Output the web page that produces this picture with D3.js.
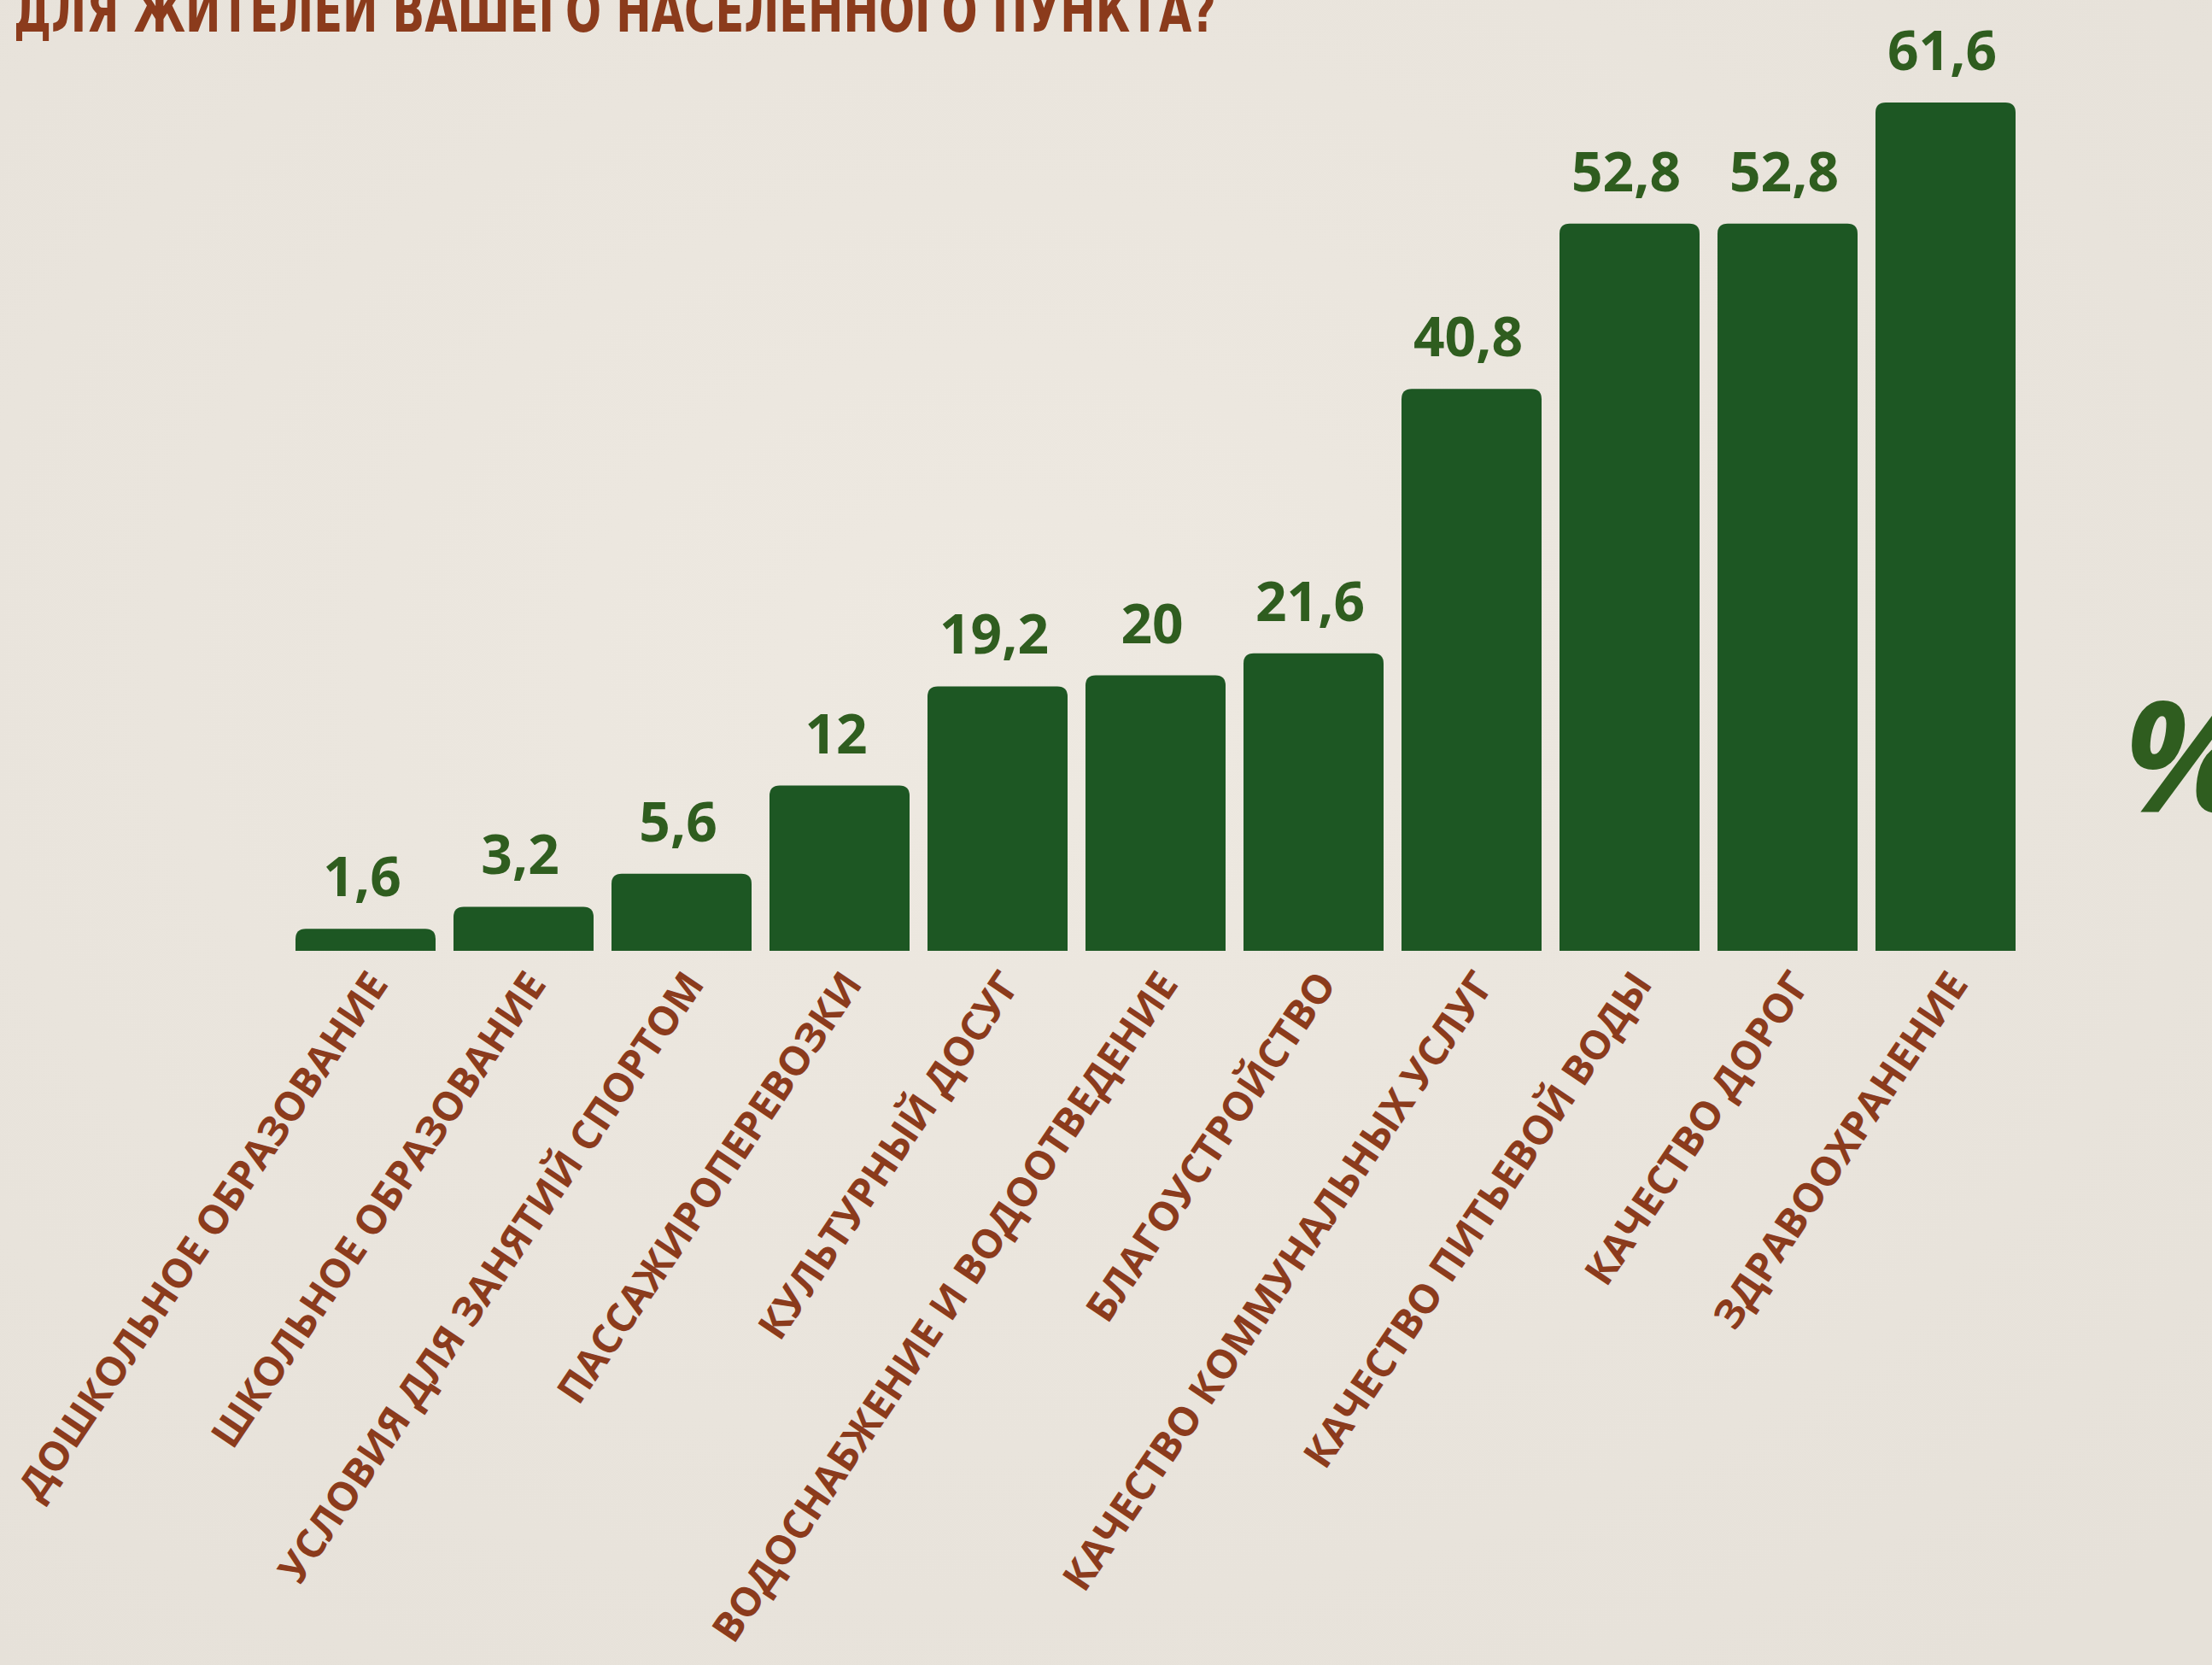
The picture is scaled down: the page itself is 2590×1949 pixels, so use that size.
<!DOCTYPE html>
<html>
<head>
<meta charset="utf-8">
<script src="https://cdn.jsdelivr.net/npm/d3@7"></script>
<style>
  html, body { margin: 0; padding: 0; background: #ebe6df; }
  svg { display: block; }
</style>
</head>
<body>
<div id="chart"></div>
<script>
// chart data
var titleText = "ДЛЯ ЖИТЕЛЕЙ ВАШЕГО НАСЕЛЕННОГО ПУНКТА?";
var categories = [
  "ДОШКОЛЬНОЕ ОБРАЗОВАНИЕ",
  "ШКОЛЬНОЕ ОБРАЗОВАНИЕ",
  "УСЛОВИЯ ДЛЯ ЗАНЯТИЙ СПОРТОМ",
  "ПАССАЖИРОПЕРЕВОЗКИ",
  "КУЛЬТУРНЫЙ ДОСУГ",
  "ВОДОСНАБЖЕНИЕ И ВОДООТВЕДЕНИЕ",
  "БЛАГОУСТРОЙСТВО",
  "КАЧЕСТВО КОММУНАЛЬНЫХ УСЛУГ",
  "КАЧЕСТВО ПИТЬЕВОЙ ВОДЫ",
  "КАЧЕСТВО ДОРОГ",
  "ЗДРАВООХРАНЕНИЕ"
];
var values = [1.6, 3.2, 5.6, 12, 19.2, 20, 21.6, 40.8, 52.8, 52.8, 61.6];
var unitLabel = "%";

var svgWidth = 2590;
var svgHeight = 1949;

var barGreen = "#1d5723";
var textGreen = "#2f5d1f";
var brown = "#8b3b1c";

var svg = d3.select("#chart")
  .append("svg")
  .attr("width", svgWidth)
  .attr("height", svgHeight);

// paper background
var defs = svg.append("defs");
var grad = defs.append("radialGradient")
  .attr("id", "paper")
  .attr("cx", "45%").attr("cy", "40%").attr("r", "75%");
grad.append("stop").attr("offset", "0%").attr("stop-color", "#eee9e1");
grad.append("stop").attr("offset", "100%").attr("stop-color", "#e6e1d9");

svg.append("rect")
  .attr("width", svgWidth)
  .attr("height", svgHeight)
  .attr("fill", "url(#paper)");

// scales
var x = d3.scaleBand()
  .domain(categories)
  .range([346, 2360])
  .paddingInner(0.1135)
  .paddingOuter(0);

var baseline = 1113;
var y = d3.scaleLinear()
  .domain([0, 61.6])
  .range([baseline, 120]);

// bar with rounded top corners only
function barPath(x0, y0, w, h, r) {
  r = Math.min(r, h, w / 2);
  return "M" + x0 + "," + (y0 + h) +
    "V" + (y0 + r) +
    "Q" + x0 + "," + y0 + " " + (x0 + r) + "," + y0 +
    "H" + (x0 + w - r) +
    "Q" + (x0 + w) + "," + y0 + " " + (x0 + w) + "," + (y0 + r) +
    "V" + (y0 + h) + "Z";
}

var data = categories.map(function(c, i) {
  return { cat: c, value: values[i] };
});

svg.append("g")
  .selectAll("path")
  .data(data)
  .enter()
  .append("path")
  .attr("d", d => barPath(x(d.cat), y(d.value), x.bandwidth(), baseline - y(d.value), 12))
  .attr("fill", barGreen);

// value labels
svg.append("g")
  .selectAll("text")
  .data(data)
  .enter()
  .append("text")
  .attr("x", d => x(d.cat) + x.bandwidth() / 2 - 4)
  .attr("y", d => y(d.value) - 38)
  .attr("text-anchor", "middle")
  .attr("font-family", "'Open Sans', sans-serif")
  .attr("font-weight", 700)
  .attr("font-size", 64)
  .attr("fill", textGreen)
  .text(d => String(d.value).replace(".", ","));

// category labels, rotated
svg.append("g")
  .selectAll("text")
  .data(data)
  .enter()
  .append("text")
  .attr("transform", d => `translate(${x(d.cat) + x.bandwidth() / 2 + 28}, 1152) rotate(-56)`)
  .attr("text-anchor", "end")
  .attr("font-family", "'Open Sans', sans-serif")
  .attr("font-weight", 700)
  .attr("font-size", 47)
  .attr("fill", brown)
  .text(d => d.cat);

// title (cut off at top of picture)
svg.append("text")
  .attr("x", 16)
  .attr("y", 37)
  .attr("textLength", 1408)
  .attr("lengthAdjust", "spacingAndGlyphs")
  .attr("font-family", "'Liberation Sans Narrow', 'DejaVu Sans Condensed', sans-serif")
  .attr("font-weight", 700)
  .attr("font-size", 70)
  .attr("fill", brown)
  .text(titleText);

// unit sign on the right
svg.append("text")
  .attr("x", 2486)
  .attr("y", 950)
  .attr("font-family", "'Open Sans', sans-serif")
  .attr("font-weight", 700)
  .attr("font-style", "italic")
  .attr("font-size", 180)
  .attr("fill", textGreen)
  .text(unitLabel);
</script>
</body>
</html>
